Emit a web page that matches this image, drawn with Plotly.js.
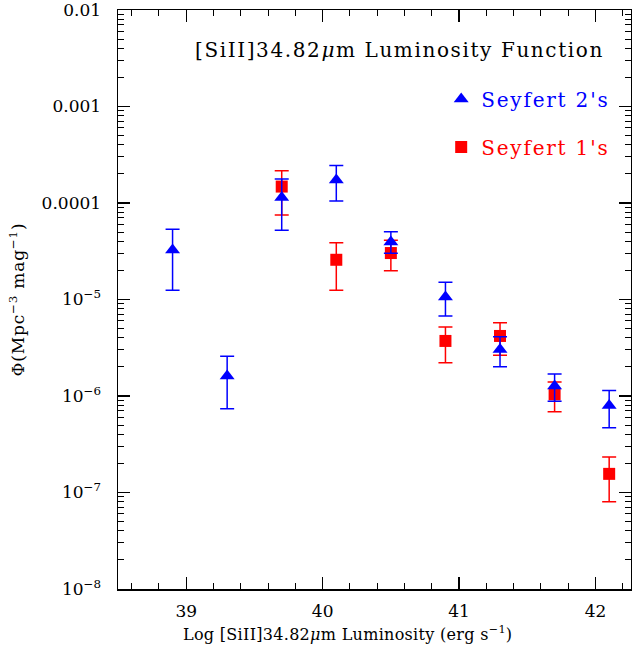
<!DOCTYPE html>
<html>
<head>
<meta charset="utf-8">
<script src="https://cdn.plot.ly/plotly-3.0.1.min.js"></script>
<style>
html,body{margin:0;padding:0;background:#fff;}
#chart{width:632px;height:651px;}
</style>
</head>
<body>
<div id="chart"></div>
<script>
// Log luminosity bins
const sy2X = [38.9, 39.3, 39.7, 40.1, 40.5, 40.9, 41.3, 41.7, 42.1];
const sy2Phi = [3.26e-5, 1.61e-6, 1.14e-4, 1.73e-4, 3.94e-5, 1.06e-5, 3.03e-6, 1.27e-6, 7.98e-7];
const sy2Upper = [5.35e-5, 2.58e-6, 1.77e-4, 2.44e-4, 5.05e-5, 1.51e-5, 4.12e-6, 1.69e-6, 1.14e-6];
const sy2Lower = [1.25e-5, 7.38e-7, 5.21e-5, 1.05e-4, 3.01e-5, 6.75e-6, 2.01e-6, 8.81e-7, 4.70e-7];

const sy1X = [39.7, 40.1, 40.5, 40.9, 41.3, 41.7, 42.1];
const sy1Phi = [1.48e-4, 2.58e-5, 3.03e-5, 3.72e-6, 4.19e-6, 1.04e-6, 1.56e-7];
const sy1Upper = [2.16e-4, 3.88e-5, 4.10e-5, 5.19e-6, 5.75e-6, 1.40e-6, 2.33e-7];
const sy1Lower = [7.52e-5, 1.25e-5, 1.99e-5, 2.21e-6, 2.64e-6, 6.87e-7, 8.04e-8];

const xTickVals = [39, 40, 41, 42];
const yTickVals = [1e-2, 1e-3, 1e-4, 1e-5, 1e-6, 1e-7, 1e-8];
const yTickText = ['0.01', '0.001', '0.0001', '10<sup>−5</sup>', '10<sup>−6</sup>', '10<sup>−7</sup>', '10<sup>−8</sup>'];

const FONT = 'DejaVu Serif, serif';
const BLUE = '#0000ff', RED = '#ff0000';

function plus(v, up) { return v.map((d, i) => up[i] - d); }
function minus(v, lo) { return v.map((d, i) => d - lo[i]); }

const yMinor = [];
for (let e = -8; e < -2; e++) for (let k = 2; k <= 9; k++) yMinor.push(k * Math.pow(10, e));

const traces = [
  {
    x: sy1X, y: sy1Phi, type: 'scatter', mode: 'markers',
    name: '<span style="color:' + RED + ';letter-spacing:1.8px">Seyfert 1\'s</span>',
    legendrank: 2, legendgroup: 'b',
    marker: {symbol: 'square', size: 12, color: RED, line: {width: 0}},
    error_y: {type: 'data', symmetric: false, array: plus(sy1Phi, sy1Upper), arrayminus: minus(sy1Phi, sy1Lower),
              color: RED, thickness: 1.5, width: 7}
  },
  {
    x: sy2X, y: sy2Phi, type: 'scatter', mode: 'markers',
    name: '<span style="color:' + BLUE + ';letter-spacing:1.8px">Seyfert 2\'s</span>',
    legendrank: 1, legendgroup: 'a',
    marker: {symbol: 'triangle-up', size: 13, color: BLUE, line: {width: 0}},
    error_y: {type: 'data', symmetric: false, array: plus(sy2Phi, sy2Upper), arrayminus: minus(sy2Phi, sy2Lower),
              color: BLUE, thickness: 1.5, width: 7}
  }
];

const layout = {
  width: 632, height: 651,
  margin: {l: 118, r: 1, t: 10, b: 62, pad: 0},
  paper_bgcolor: '#fff', plot_bgcolor: '#fff',
  font: {family: FONT, color: '#000', size: 16},
  showlegend: true,
  legend: {x: 0.63, y: 0.88, xanchor: 'left', yanchor: 'top', bgcolor: 'rgba(0,0,0,0)',
           font: {family: FONT, size: 20}, traceorder: 'grouped', tracegroupgap: 19},
  xaxis: {
    range: [38.5, 42.26], tickmode: 'array', tickvals: xTickVals,
    ticks: 'inside', ticklen: 12, tickwidth: 1.3, tickcolor: '#000',
    minor: {ticks: 'inside', ticklen: 6, tickwidth: 1, tickcolor: '#000', tick0: 39, dtick: 0.2, showgrid: false},
    showline: true, linecolor: '#000', linewidth: 1.5, mirror: 'ticks',
    showgrid: false, zeroline: false, ticklabelstandoff: 6, ticklabeloverflow: 'allow',
    tickfont: {family: FONT, size: 17}
  },
  yaxis: {
    type: 'log', range: [-8, -2], tickmode: 'array', tickvals: yTickVals, ticktext: yTickText,
    ticks: 'inside', ticklen: 12, tickwidth: 1.3, tickcolor: '#000',
    minor: {ticks: 'inside', ticklen: 6, tickwidth: 1, tickcolor: '#000', tickmode: 'array', tickvals: yMinor, showgrid: false},
    showline: true, linecolor: '#000', linewidth: 1.5, mirror: 'ticks',
    showgrid: false, zeroline: false, ticklabelstandoff: 12, ticklabeloverflow: 'allow',
    tickfont: {family: FONT, size: 17},
    title: {text: '<span style="letter-spacing:0.8px">Φ(Mpc<sup>−3</sup> mag<sup>−1</sup>)</span>', font: {family: FONT, size: 17}, standoff: 12}
  },
  annotations: [
    {
      xref: 'paper', yref: 'paper', x: 0.951, y: 0.931, xanchor: 'right', yanchor: 'middle',
      text: '<span style="letter-spacing:1.6px">[SiII]34.82<i>μ</i>m Luminosity Function</span>', showarrow: false,
      font: {family: FONT, size: 20, color: '#000'}
    },
    {
      xref: 'paper', yref: 'paper', x: 0.448, y: -0.0777, xanchor: 'center', yanchor: 'middle',
      text: '<span style="letter-spacing:0.3px">Log [SiII]34.82<i>μ</i>m Luminosity (erg s<sup>−1</sup>)</span>', showarrow: false,
      font: {family: FONT, size: 16, color: '#000'}
    }
  ]
};

Plotly.newPlot('chart', traces, layout, {displayModeBar: false, staticPlot: true});
</script>
</body>
</html>
